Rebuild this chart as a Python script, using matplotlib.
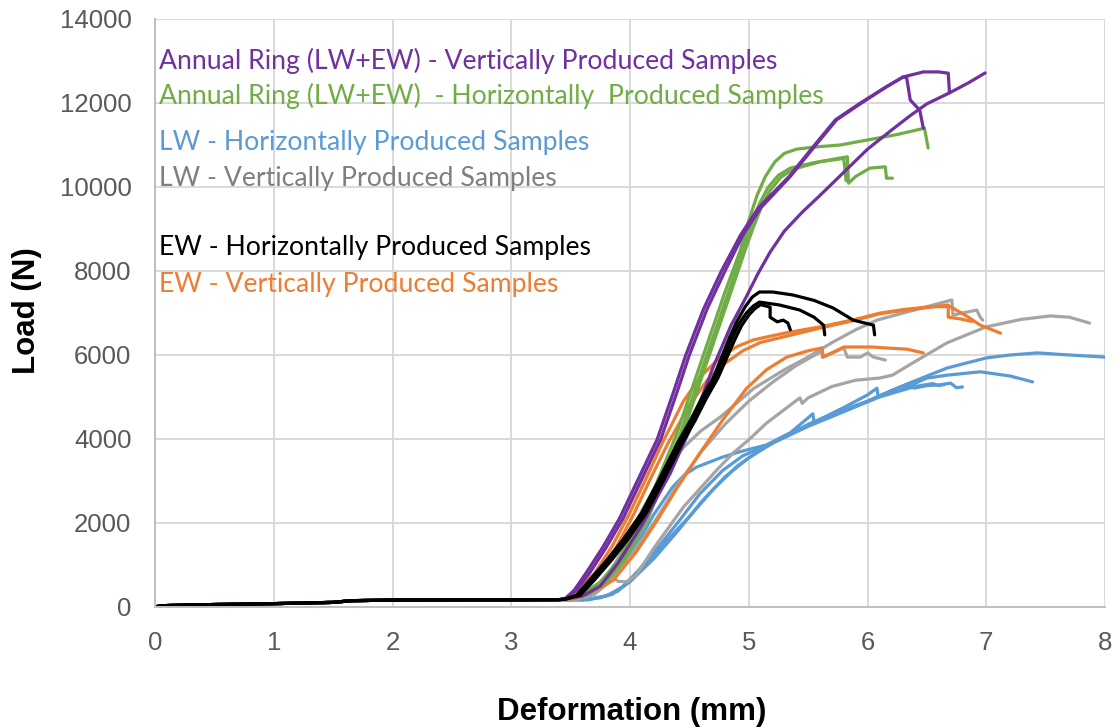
import matplotlib
matplotlib.use("Agg")
import matplotlib.pyplot as plt

# shared seating / toe region (deformation mm, load N)
TOE_X = [0, 0.05, 0.3, 1.0, 1.5, 1.65, 2.0, 2.6, 3.0, 3.4]
TOE_Y = [0, 30, 50, 80, 110, 150, 165, 170, 170, 175]

# Annual ring - vertically produced (purple)
PURPLE_X = [
    [3.45, 3.55, 3.66, 3.8, 3.94, 4.1, 4.26, 4.4, 4.5, 4.65, 4.8, 4.95, 5.1, 5.35, 5.55, 5.74, 5.95, 6.15, 6.3, 6.47, 6.6, 6.68, 6.69],
    [3.45, 3.53, 3.63, 3.77, 3.91, 4.07, 4.23, 4.37, 4.47, 4.62, 4.77, 4.93, 5.08, 5.34, 5.54, 5.73, 5.94, 6.15, 6.3, 6.33, 6.36, 6.44, 6.47],
    [3.45, 3.6, 3.75, 3.9, 4.1, 4.34, 4.5, 4.7, 4.85, 4.98, 5.08, 5.18, 5.3, 5.45, 5.6, 5.8, 6.0, 6.2, 6.36, 6.5, 6.69, 6.85, 6.99],
]
PURPLE_Y = [
    [190, 400, 810, 1420, 2100, 3050, 4000, 5150, 6000, 7100, 8000, 8850, 9500, 10250, 10950, 11600, 12000, 12370, 12620, 12740, 12740, 12710, 12260],
    [190, 400, 810, 1420, 2100, 3050, 4000, 5150, 6000, 7100, 8000, 8850, 9500, 10250, 10950, 11600, 12000, 12370, 12620, 12600, 12070, 11830, 11400],
    [185, 260, 500, 1050, 1950, 3190, 4200, 5710, 6700, 7390, 7950, 8450, 8950, 9400, 9800, 10350, 10900, 11350, 11700, 11980, 12240, 12480, 12715],
]

# Annual ring - horizontally produced (green)
GREEN_X = [
    [3.45, 3.6, 3.75, 3.9, 4.1, 4.39, 4.6, 4.8, 4.93, 5.0, 5.07, 5.14, 5.22, 5.3, 5.4, 5.55, 5.77, 6.0, 6.25, 6.48, 6.51],
    [3.45, 3.63, 3.78, 3.93, 4.13, 4.42, 4.63, 4.83, 4.95, 5.02, 5.09, 5.16, 5.25, 5.35, 5.55, 5.77, 5.83, 5.84, 5.9, 6.02, 6.15, 6.16, 6.21],
    [3.45, 3.65, 3.8, 3.95, 4.15, 4.44, 4.65, 4.85, 4.97, 5.04, 5.11, 5.18, 5.27, 5.37, 5.6, 5.8, 5.82],
]
GREEN_Y = [
    [185, 300, 600, 1100, 2100, 4100, 5850, 7500, 8500, 9200, 9800, 10250, 10600, 10800, 10900, 10950, 11000, 11120, 11250, 11400, 10930],
    [185, 300, 600, 1100, 2100, 4100, 5850, 7500, 8500, 9100, 9600, 9980, 10280, 10450, 10580, 10690, 10720, 10090, 10250, 10450, 10480, 10210, 10210],
    [185, 300, 600, 1100, 2100, 4100, 5850, 7500, 8500, 9050, 9550, 9920, 10230, 10420, 10600, 10680, 10150],
]

# LW - horizontally produced (blue)
BLUE_X = [
    [3.6, 3.75, 3.9, 4.05, 4.23, 4.4, 4.59, 4.78, 4.95, 5.15, 5.4, 5.7, 6.0, 6.2, 6.38, 6.5, 6.67, 7.0, 7.2, 7.43, 7.7, 8.0],
    [3.55, 3.7, 3.85, 3.94, 4.1, 4.2, 4.36, 4.46, 4.56, 4.78, 4.93, 5.15, 5.35, 5.54, 5.55, 5.8, 6.0, 6.08, 6.09, 6.3, 6.5, 6.67, 6.95, 7.2, 7.39],
    [3.6, 3.8, 3.95, 4.1, 4.3, 4.5, 4.7, 4.9, 5.1, 5.3, 5.5, 5.8, 6.0, 6.2, 6.38, 6.39, 6.5, 6.61, 6.7, 6.75, 6.8],
    [3.65, 3.85, 4.0, 4.2, 4.4, 4.6, 4.8, 5.0, 5.2, 5.5, 5.8, 6.1, 6.4, 6.55, 6.6, 6.65],
]
BLUE_Y = [
    [170, 220, 380, 800, 1400, 2000, 2700, 3250, 3600, 3850, 4200, 4550, 4900, 5150, 5360, 5500, 5690, 5930, 6000, 6050, 6000, 5950],
    [175, 350, 750, 1050, 1700, 2200, 2860, 3150, 3330, 3570, 3700, 3860, 4150, 4600, 4400, 4750, 5050, 5210, 5000, 5200, 5450, 5520, 5600, 5500, 5360],
    [170, 260, 500, 950, 1550, 2150, 2800, 3350, 3750, 4050, 4350, 4700, 4900, 5150, 5360, 5210, 5270, 5290, 5330, 5220, 5240],
    [170, 300, 600, 1150, 1800, 2500, 3100, 3550, 3900, 4300, 4650, 5000, 5250, 5320, 5270, 5300],
]

# LW - vertically produced (grey)
GREY_X = [
    [3.5, 3.65, 3.75, 3.82, 3.86, 3.9, 3.97, 4.05, 4.2, 4.45, 4.73, 4.87, 5.0, 5.15, 5.3, 5.43, 5.45, 5.5, 5.7, 5.9, 6.1, 6.21, 6.38, 6.67, 7.0, 7.3, 7.54, 7.7, 7.87],
    [3.5, 3.65, 3.8, 3.95, 4.1, 4.3, 4.45, 4.6, 4.76, 5.04, 5.3, 5.5, 5.71, 5.9, 6.08, 6.3, 6.5, 6.71, 6.72, 6.8, 6.92, 6.95, 6.97],
    [3.55, 3.7, 3.85, 4.0, 4.2, 4.4, 4.6, 4.8, 5.0, 5.2, 5.4, 5.62, 5.63, 5.8, 5.83, 5.94, 6.0, 6.05, 6.15],
]
GREY_Y = [
    [175, 250, 550, 800, 700, 610, 600, 750, 1400, 2380, 3260, 3670, 3980, 4380, 4700, 4980, 4850, 4980, 5250, 5400, 5450, 5520, 5810, 6290, 6670, 6850, 6930, 6900, 6760],
    [180, 300, 700, 1400, 2300, 3300, 3800, 4200, 4520, 5200, 5650, 5950, 6310, 6600, 6830, 7000, 7150, 7310, 6950, 7000, 7070, 6900, 6830],
    [180, 300, 650, 1200, 2000, 2900, 3700, 4350, 4900, 5350, 5750, 6100, 5950, 6170, 5950, 5950, 6050, 5950, 5880],
]

# EW - horizontally produced (black)
BLACK_X = [
    [3.45, 3.55, 3.66, 3.8, 3.94, 4.1, 4.23, 4.4, 4.51, 4.6, 4.7, 4.84, 4.9, 4.97, 5.03, 5.09, 5.2, 5.37, 5.55, 5.71, 5.88, 6.05, 6.06],
    [3.45, 3.57, 3.68, 3.82, 3.96, 4.12, 4.25, 4.42, 4.53, 4.62, 4.72, 4.86, 4.92, 4.98, 5.04, 5.09, 5.26, 5.43, 5.55, 5.63, 5.64],
    [3.45, 3.58, 3.7, 3.84, 3.98, 4.14, 4.27, 4.44, 4.55, 4.64, 4.74, 4.88, 4.94, 5.0, 5.05, 5.1, 5.18, 5.18, 5.24, 5.29, 5.33, 5.35],
]
BLACK_Y = [
    [185, 280, 640, 1100, 1600, 2250, 2950, 3900, 4450, 4950, 5450, 6430, 6800, 7150, 7380, 7500, 7500, 7430, 7300, 7120, 6830, 6710, 6480],
    [185, 280, 640, 1100, 1600, 2250, 2950, 3900, 4450, 4950, 5450, 6400, 6750, 7000, 7170, 7260, 7190, 7070, 6900, 6710, 6480],
    [185, 280, 640, 1100, 1600, 2250, 2950, 3900, 4450, 4950, 5450, 6350, 6700, 6950, 7100, 7200, 7140, 6900, 6790, 6830, 6760, 6600],
]

# EW - vertically produced (orange)
ORANGE_X = [
    [3.45, 3.55, 3.7, 3.85, 4.0, 4.15, 4.28, 4.45, 4.6, 4.76, 4.9, 5.04, 5.3, 5.6, 5.9, 6.11, 6.3, 6.53, 6.7, 6.85, 6.95, 7.12],
    [3.45, 3.58, 3.72, 3.88, 4.03, 4.18, 4.32, 4.5, 4.65, 4.8, 4.95, 5.1, 5.35, 5.6, 5.9, 6.1, 6.3, 6.5, 6.68, 6.68, 6.78, 6.88],
    [3.5, 3.65, 3.86, 4.05, 4.23, 4.4, 4.59, 4.78, 4.98, 5.15, 5.32, 5.5, 5.62, 5.62, 5.7, 5.8, 6.04, 6.2, 6.33, 6.47],
]
ORANGE_Y = [
    [190, 350, 800, 1450, 2250, 3150, 3950, 4900, 5500, 5950, 6200, 6360, 6520, 6670, 6850, 7000, 7080, 7150, 7150, 6900, 6710, 6520],
    [185, 330, 760, 1400, 2200, 3100, 3900, 4800, 5400, 5800, 6100, 6300, 6470, 6640, 6830, 6980, 7060, 7130, 7190, 6900, 6860, 6800],
    [180, 300, 640, 1300, 2070, 2850, 3670, 4450, 5200, 5650, 5950, 6100, 6170, 5950, 6050, 6190, 6190, 6160, 6140, 6050],
]

LABELS = [
    "Annual Ring (LW+EW) - Vertically Produced Samples",
    "Annual Ring (LW+EW)  - Horizontally  Produced Samples",
    "LW - Horizontally Produced Samples",
    "LW - Vertically Produced Samples",
    "EW - Horizontally Produced Samples",
    "EW - Vertically Produced Samples",
]
LABEL_Y = [13000, 12170, 11070, 10210, 8550, 7670]

C_PURPLE = "#7030A0"
C_GREEN = "#70AD47"
C_BLUE = "#5B9BD5"
C_GREY = "#A5A5A5"
C_BLACK = "#000000"
C_ORANGE = "#ED7D31"
LABEL_COLORS = [C_PURPLE, C_GREEN, C_BLUE, "#7F7F7F", C_BLACK, C_ORANGE]

fig = plt.figure(figsize=(11.13, 7.28), dpi=100)
ax = fig.add_axes([155 / 1113, 121 / 728, 950 / 1113, 588 / 728])

groups = [
    (BLUE_X, BLUE_Y, C_BLUE),
    (GREY_X, GREY_Y, C_GREY),
    (ORANGE_X, ORANGE_Y, C_ORANGE),
    (GREEN_X, GREEN_Y, C_GREEN),
    (PURPLE_X, PURPLE_Y, C_PURPLE),
    (BLACK_X, BLACK_Y, C_BLACK),
]
for xs, ys, col in groups:
    for cx, cy in zip(xs, ys):
        ax.plot(TOE_X + cx, TOE_Y + cy, color=col, lw=2.3,
                solid_joinstyle="round", solid_capstyle="round")

for txt, ty, col in zip(LABELS, LABEL_Y, LABEL_COLORS):
    ax.text(0.03, ty, txt, color=col, fontsize=19.2, family="Lato", va="center", ha="left")

ax.set_xlim(0, 8)
ax.set_ylim(0, 14000)
ax.set_xticks(range(0, 9))
ax.set_yticks(range(0, 14001, 2000))
ax.grid(True, color="#D9D9D9", lw=1.4)
ax.set_axisbelow(True)
for s in ["top", "right"]:
    ax.spines[s].set_visible(False)
for s in ["left", "bottom"]:
    ax.spines[s].set_color("#BFBFBF")
    ax.spines[s].set_linewidth(1.4)
ax.tick_params(length=0, labelsize=18.5, labelcolor="#595959", pad=17)
for lab in ax.get_xticklabels() + ax.get_yticklabels():
    lab.set_family("Liberation Sans")

fig.text(27 / 1113, 1 - 311 / 728, "Load (N)", rotation=90, fontsize=22.5, fontweight="bold",
         family="Liberation Sans", ha="center", va="center")
fig.text(632 / 1113, 1 - 712 / 728, "Deformation (mm)", fontsize=22.5, fontweight="bold",
         family="Liberation Sans", ha="center", va="center")

plt.savefig("out.png", dpi=100)
